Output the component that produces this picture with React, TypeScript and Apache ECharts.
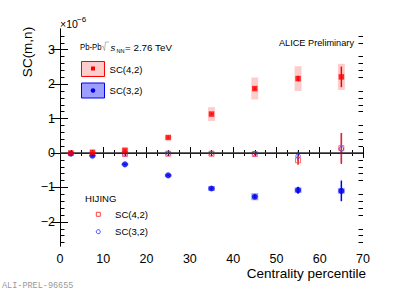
import React, { useEffect, useRef } from "react";
import * as echarts from "echarts";

const centrality = [2.5, 7.5, 15, 25, 35, 45, 55, 65];
const sc42 = [0.0, 0.02, 0.08, 0.45, 1.13, 1.87, 2.16, 2.21];
const sc42Stat = [0.01, 0.01, 0.02, 0.02, 0.03, 0.04, 0.08, 0.3];
const sc42Sys = [0.03, 0.03, 0.05, 0.05, 0.2, 0.32, 0.36, 0.38];
const sc32 = [-0.02, -0.08, -0.33, -0.65, -1.03, -1.27, -1.08, -1.1];
const sc32Stat = [0.01, 0.01, 0.02, 0.02, 0.03, 0.04, 0.1, 0.3];
const sc32Sys = [0.02, 0.02, 0.03, 0.04, 0.07, 0.1, 0.08, 0.08];

const hijCentrality = [15, 25, 35, 45, 55, 65];
const hij42 = [-0.03, -0.02, -0.02, -0.03, -0.21, 0.14];
const hij42Err = [0.02, 0.02, 0.02, 0.03, 0.13, 0.44];
const hij32 = [-0.02, -0.01, -0.01, -0.02, -0.09, 0.12];
const hij32Err = [0.02, 0.02, 0.02, 0.02, 0.14, 0.44];

const yMajorTicks = [-2, -1, 0, 1, 2, 3];
const Y_MIN = -2.7;
const Y_MAX = 3.6;

const FONT = "Liberation Sans, Arial, Helvetica, sans-serif";

function minorTicks(): number[] {
  const out: number[] = [];
  for (let k = -13; k < 18; k++) {
    if (k % 5 !== 0) out.push(Math.round(k * 2) / 10);
  }
  return out;
}

function boxSeries(xs: number[], ys: number[], sys: number[], fill: string, z: number) {
  return {
    type: "custom",
    xAxisIndex: 0,
    yAxisIndex: 0,
    z,
    data: xs.map((x, i) => [x, ys[i], sys[i]]),
    renderItem: (_p: any, api: any) => {
      const x = api.value(0);
      const y = api.value(1);
      const s = api.value(2);
      const p1 = api.coord([x - 0.8, y + s]);
      const p2 = api.coord([x + 0.8, y - s]);
      return {
        type: "rect",
        shape: { x: p1[0], y: p1[1], width: p2[0] - p1[0], height: p2[1] - p1[1] },
        style: { fill },
      };
    },
  };
}

function errSeries(xs: number[], ys: number[], err: number[], stroke: string, z: number, width: number) {
  return {
    type: "custom",
    xAxisIndex: 0,
    yAxisIndex: 0,
    z,
    data: xs.map((x, i) => [x, ys[i], err[i]]),
    renderItem: (_p: any, api: any) => {
      const x = api.value(0);
      const y = api.value(1);
      const e = api.value(2);
      const p1 = api.coord([x, y + e]);
      const p2 = api.coord([x, y - e]);
      return {
        type: "line",
        shape: { x1: p1[0], y1: p1[1], x2: p2[0], y2: p2[1] },
        style: { stroke, lineWidth: width },
      };
    },
  };
}

export default function App() {
  const ref = useRef<HTMLDivElement>(null);
  useEffect(() => {
    if (!ref.current) return;
    const chart = echarts.init(ref.current, null, { renderer: "svg" });
    const minors = minorTicks();
    const lineStyle = { color: "#000", width: 1 };
    const fmt = (v: number) => String(v).replace("-", "\u2212");
    const option: any = {
      animation: false,
      backgroundColor: "#fff",
      grid: { left: 60, right: 40, top: 29, bottom: 44, containLabel: false },
      xAxis: [
        {
          type: "value",
          position: "bottom",
          min: 0,
          max: 70,
          interval: 10,
          axisLine: { show: true, lineStyle },
          axisTick: { show: true, inside: true, length: 6, lineStyle },
          minorTick: { show: true, splitNumber: 4, length: 3, lineStyle },
          splitLine: { show: false },
          axisLabel: { fontSize: 12.5, color: "#000", fontFamily: FONT, margin: 6 },
        },
        {
          type: "value",
          position: "top",
          min: 0,
          max: 70,
          interval: 10,
          axisLine: { show: true, lineStyle },
          axisTick: { show: true, inside: true, length: 5, lineStyle },
          minorTick: { show: true, splitNumber: 4, length: 3, lineStyle },
          splitLine: { show: false },
          axisLabel: { show: false },
        },
      ],
      yAxis: [
        {
          type: "value",
          position: "left",
          min: Y_MIN,
          max: Y_MAX,
          axisLine: { show: true, lineStyle },
          axisTick: { show: true, inside: true, length: 8, lineStyle, customValues: yMajorTicks },
          splitLine: { show: false },
          axisLabel: {
            customValues: yMajorTicks,
            fontSize: 12.5,
            color: "#000",
            fontFamily: FONT,
            margin: 5,
            formatter: fmt,
          },
        },
        {
          type: "value",
          position: "right",
          min: Y_MIN,
          max: Y_MAX,
          axisLine: { show: true, lineStyle },
          axisTick: { show: true, inside: true, length: 9, lineStyle, customValues: yMajorTicks },
          splitLine: { show: false },
          axisLabel: { show: false },
        },
        {
          type: "value",
          position: "left",
          min: Y_MIN,
          max: Y_MAX,
          axisLine: { show: false },
          axisTick: { show: true, inside: true, length: 4.5, lineStyle, customValues: minors },
          splitLine: { show: false },
          axisLabel: { show: false },
        },
        {
          type: "value",
          position: "right",
          min: Y_MIN,
          max: Y_MAX,
          axisLine: { show: false },
          axisTick: { show: true, inside: true, length: 4.5, lineStyle, customValues: minors },
          splitLine: { show: false },
          axisLabel: { show: false },
        },
      ],
      series: [
        boxSeries(centrality, sc42, sc42Sys, "#ffcccc", 1),
        boxSeries(centrality, sc32, sc32Sys, "rgba(40,40,255,0.45)", 1),
        {
          type: "line",
          xAxisIndex: 0,
          yAxisIndex: 0,
          data: [],
          z: 2,
          markLine: {
            silent: true,
            symbol: "none",
            label: { show: false },
            lineStyle: { color: "#333", width: 1.5, type: "solid" },
            data: [{ yAxis: 0 }],
          },
        },
        errSeries(hijCentrality, hij32, hij32Err, "#2222ee", 3, 1),
        errSeries(hijCentrality, hij42, hij42Err, "#ee2222", 3, 1.6),
        {
          type: "scatter",
          xAxisIndex: 0,
          yAxisIndex: 0,
          z: 4,
          symbol: "rect",
          symbolSize: 5,
          itemStyle: { color: "transparent", borderColor: "#ff4040", borderWidth: 1 },
          data: hijCentrality.map((x, i) => [x, hij42[i]]),
        },
        {
          type: "scatter",
          xAxisIndex: 0,
          yAxisIndex: 0,
          z: 4,
          symbol: "circle",
          symbolSize: 4.5,
          itemStyle: { color: "transparent", borderColor: "#4040ff", borderWidth: 1 },
          data: hijCentrality.map((x, i) => [x, hij32[i]]),
        },
        errSeries(centrality, sc42, sc42Stat, "#ff0000", 5, 1.5),
        errSeries(centrality, sc32, sc32Stat, "#0000ee", 5, 1.5),
        {
          type: "scatter",
          xAxisIndex: 0,
          yAxisIndex: 0,
          z: 6,
          symbol: "circle",
          symbolSize: 6,
          itemStyle: { color: "#0000ee" },
          data: centrality.map((x, i) => [x, sc32[i]]),
        },
        {
          type: "scatter",
          xAxisIndex: 0,
          yAxisIndex: 0,
          z: 6,
          symbol: "rect",
          symbolSize: 5.5,
          itemStyle: { color: "#ff0000" },
          data: centrality.map((x, i) => [x, sc42[i]]),
        },
      ],
      graphic: [
        {
          type: "text",
          x: 60,
          y: 24,
          style: { text: "\u00d710", fontSize: 10.5, fontFamily: FONT, fill: "#000", textVerticalAlign: "middle" },
        },
        {
          type: "text",
          x: 77,
          y: 19.5,
          style: { text: "\u22126", fontSize: 8, fontFamily: FONT, fill: "#000", textVerticalAlign: "middle" },
        },
        {
          type: "text",
          x: 27.5,
          y: 52,
          rotation: Math.PI / 2,
          style: {
            text: "SC(m,n)",
            fontSize: 13.5,
            fontFamily: FONT,
            fill: "#000",
            textAlign: "center",
            textVerticalAlign: "middle",
          },
        },
        {
          type: "text",
          x: 366,
          y: 273,
          style: {
            text: "Centrality percentile",
            fontSize: 13.5,
            fontFamily: FONT,
            fill: "#000",
            textAlign: "right",
            textVerticalAlign: "middle",
          },
        },
        {
          type: "text",
          x: 354,
          y: 43,
          style: {
            text: "ALICE Preliminary",
            fontSize: 9.2,
            fontFamily: FONT,
            fill: "#000",
            textAlign: "right",
            textVerticalAlign: "middle",
          },
        },
        {
          type: "text",
          x: 80,
          y: 47,
          scaleX: 0.82,
          style: { text: "Pb-Pb", fontSize: 9.5, fontFamily: FONT, fill: "#000", textVerticalAlign: "middle" },
        },
        {
          type: "polyline",
          shape: { points: [[102, 46.5], [103, 46], [104.5, 50.5], [105.5, 42], [109, 42]] },
          style: { stroke: "#888", lineWidth: 0.6, fill: "none" },
        },
        {
          type: "text",
          x: 110.5,
          y: 47.5,
          style: { text: "s", fontSize: 9.5, fontStyle: "italic", fontFamily: FONT, fill: "#000", textVerticalAlign: "middle" },
        },
        {
          type: "text",
          x: 116.5,
          y: 50.5,
          style: { text: "NN", fontSize: 5.5, fontFamily: FONT, fill: "#000", textVerticalAlign: "middle" },
        },
        {
          type: "text",
          x: 125,
          y: 47,
          style: { text: "= 2.76 TeV", fontSize: 9.8, fontFamily: FONT, fill: "#000", textVerticalAlign: "middle" },
        },
        {
          type: "rect",
          shape: { x: 81.5, y: 61.5, width: 23, height: 15 },
          style: { fill: "#ffcccc", stroke: "#ff0000", lineWidth: 1 },
        },
        {
          type: "rect",
          shape: { x: 91, y: 66.5, width: 4, height: 4 },
          style: { fill: "#ff0000" },
        },
        {
          type: "text",
          x: 109.5,
          y: 69,
          style: { text: "SC(4,2)", fontSize: 9.6, fontFamily: FONT, fill: "#000", textVerticalAlign: "middle" },
        },
        {
          type: "rect",
          shape: { x: 81.5, y: 83, width: 23, height: 15 },
          style: { fill: "rgba(40,40,255,0.45)", stroke: "#0000ee", lineWidth: 1 },
        },
        {
          type: "circle",
          shape: { cx: 93, cy: 90.5, r: 2.3 },
          style: { fill: "#0000ee" },
        },
        {
          type: "text",
          x: 109.5,
          y: 90.5,
          style: { text: "SC(3,2)", fontSize: 9.6, fontFamily: FONT, fill: "#000", textVerticalAlign: "middle" },
        },
        {
          type: "text",
          x: 85,
          y: 198.5,
          style: { text: "HIJING", fontSize: 9.6, fontFamily: FONT, fill: "#000", textVerticalAlign: "middle" },
        },
        {
          type: "rect",
          shape: { x: 96.3, y: 212.3, width: 4, height: 4 },
          style: { fill: "none", stroke: "#ff4040", lineWidth: 1 },
        },
        {
          type: "text",
          x: 115,
          y: 214.5,
          style: { text: "SC(4,2)", fontSize: 9.6, fontFamily: FONT, fill: "#000", textVerticalAlign: "middle" },
        },
        {
          type: "circle",
          shape: { cx: 98.3, cy: 231.7, r: 2 },
          style: { fill: "none", stroke: "#4040ff", lineWidth: 1 },
        },
        {
          type: "text",
          x: 115,
          y: 231.7,
          style: { text: "SC(3,2)", fontSize: 9.6, fontFamily: FONT, fill: "#000", textVerticalAlign: "middle" },
        },
        {
          type: "text",
          x: 2,
          y: 285.5,
          style: {
            text: "ALI-PREL-96655",
            fontSize: 8.5,
            fontFamily: "Liberation Mono, monospace",
            fill: "#999",
            textVerticalAlign: "middle",
          },
        },
      ],
    };
    chart.setOption(option);
    return () => chart.dispose();
  }, []);
  return <div ref={ref} style={{ width: 403, height: 290, position: "fixed", left: 0, top: 0 }} />;
}
